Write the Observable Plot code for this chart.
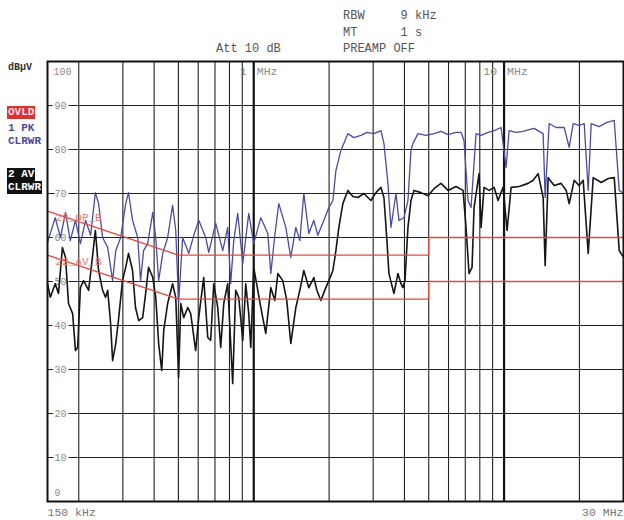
<!DOCTYPE html>
<html><head><meta charset="utf-8">
<script src="https://cdn.jsdelivr.net/npm/d3@7"></script>
<script src="https://cdn.jsdelivr.net/npm/@observablehq/plot@0.6"></script>
<style>
body{margin:0;background:#fff}
#wrap{position:relative;width:624px;height:520px;font-family:"Liberation Mono","DejaVu Sans Mono",monospace}
.t{position:absolute;white-space:pre;line-height:1}
.hd{font-size:12px;color:#555}
.lg{font-size:11px;font-weight:bold}
</style></head><body><div id="wrap"></div>
<script>
// Peak trace (kHz, dBµV)
const pkFreq = [150,161,169,177,185,194,203,213,223,233,240,249,261,273,281,294,308,316,328,344,353,363,377,395,406,417,433,453,474,488,501,520,550,576,603,643,661,705,752,787,809,832,863,904,955,1000,1067,1138,1170,1214,1259,1343,1406,1473,1528,1585,1660,1738,1803,1906,1996,2071,2129,2229,2377,2512,2680,2832,3021,3222,3312,3436,3533,3699,3803,3982,4131,4247,4326,4530,4876,5249,5599,5972,6428,6731,6920,7179,7381,7728,8093,8632,9122,9729,10188,10473,11171,11915,12592,13185,14325,14591,15138,16147,17382,18201,18884,19957,20898,21681,22289,23994,25591,27548,28847,30000];
const pkLevel = [58.9,64.5,60.0,65.7,59.3,63.9,58.6,63.9,60.5,70.2,67.7,60.0,57.7,50.2,57.0,60.0,67.7,70.2,63.9,60.0,50.2,57.0,58.6,65.7,60.0,50.2,56.4,60.0,67.3,61.6,45.0,60.0,56.4,60.5,63.9,60.0,56.6,63.2,57.0,62.3,49.5,59.3,65.5,54.1,65.5,58.6,64.5,60.9,51.8,60.5,67.7,62.3,55.5,62.3,59.3,70.0,60.9,63.9,60.5,63.9,66.8,68.4,75.2,79.8,83.6,82.7,83.2,83.9,83.6,84.3,81.4,72.3,62.3,70.0,63.9,64.5,68.4,79.8,81.4,83.6,83.2,83.6,84.1,83.4,83.9,83.9,82.0,68.4,66.8,83.6,83.2,83.9,84.3,85.0,75.9,84.3,83.9,84.1,84.5,84.8,83.6,69.1,85.9,85.0,85.0,80.5,85.9,85.5,85.9,70.7,85.9,85.2,86.1,86.6,70.7,70.0];
// Average trace (kHz, dBµV)
const avFreq = [150,154,161,166,172,177,182,189,194,198,203,209,219,229,233,240,249,256,261,268,273,281,288,299,308,316,328,337,347,360,370,380,395,406,417,429,437,453,474,488,501,511,525,545,560,586,603,631,655,673,692,718,738,759,787,809,824,847,871,904,929,955,973,1000,1038,1067,1117,1170,1214,1248,1306,1355,1406,1473,1528,1585,1660,1738,1787,1854,1941,1996,2071,2129,2188,2270,2377,2489,2607,2755,2938,3077,3222,3312,3405,3468,3631,3768,3873,3945,4019,4131,4247,4366,4657,4967,5249,5599,5972,6428,6856,7048,7246,7449,7587,7945,8093,8319,8711,9122,9464,9910,10282,10668,11484,12476,13064,13680,14325,14591,15000,15852,16908,17705,18201,19059,19957,20706,21681,22704,24440,26067,27548,28847,30000];
const avLevel = [49.5,46.4,49.5,47.3,57.7,55.5,45.0,42.7,34.3,35.0,48.6,50.2,48.0,57.7,61.6,52.5,48.0,46.4,48.0,40.5,32.0,35.9,41.1,50.2,53.2,56.4,52.5,44.1,41.1,41.8,47.3,53.2,50.9,46.4,35.9,29.8,38.9,45.0,49.5,46.4,28.2,45.0,41.8,44.1,42.7,34.3,41.8,50.9,37.3,36.6,49.5,44.1,35.0,45.0,49.5,35.9,26.8,48.0,46.4,36.6,49.5,42.7,35.0,53.2,48.0,44.1,38.2,48.6,45.7,51.8,50.2,45.7,35.9,44.1,48.0,52.5,48.6,50.9,48.0,45.7,48.6,50.2,52.5,57.0,62.3,67.7,70.7,69.3,69.1,70.0,68.4,70.2,71.4,69.1,59.3,51.8,47.3,51.8,49.5,48.6,50.2,62.3,68.4,70.7,70.2,69.5,71.1,72.3,70.7,71.6,70.7,62.3,51.8,53.2,66.8,74.5,62.3,71.4,70.7,71.4,68.4,71.4,61.6,71.4,71.6,72.3,73.0,74.5,69.1,53.6,73.6,71.8,72.3,70.7,67.7,73.0,71.8,73.0,56.4,73.6,72.5,73.4,73.6,57.0,55.5];
// Limit lines (EN 55022 class B)
const limFreq = [150,500,5000,5000,30000];
const qpLimit = [66,56,56,60,60];
const avLimit = [56,46,46,50,50];
// Grid / tick values
const yTicks = [10,20,30,40,50,60,70,80,90];
const minorFreqs = [200,300,400,500,600,700,800,900,2000,3000,4000,5000,6000,7000,8000,9000,20000];
const majorFreqs = [1000,10000];
const majorLabels = ["1","10"];

const pk = pkFreq.map((f,i)=>({f, v: pkLevel[i]}));
const av = avFreq.map((f,i)=>({f, v: avLevel[i]}));
const qp = limFreq.map((f,i)=>({f, v: qpLimit[i]}));
const al = limFreq.map((f,i)=>({f, v: avLimit[i]}));

const mono = "Liberation Mono, DejaVu Sans Mono, monospace";
const gray = "#8a8a8a";

const chart = Plot.plot({
  width: 624, height: 520,
  marginLeft: 47, marginRight: 1, marginTop: 61, marginBottom: 19,
  style: {background: "white", fontFamily: mono, overflow: "visible"},
  x: {type: "log", domain: [150, 30000], axis: null},
  y: {domain: [0, 100], axis: null},
  marks: [
    Plot.ruleY(yTicks, {stroke: "#222", strokeWidth: 1.1}),
    Plot.ruleX(minorFreqs, {stroke: "#222", strokeWidth: 1.1}),
    Plot.ruleX(majorFreqs, {stroke: "#111", strokeWidth: 2.2}),
    Plot.text(yTicks, {x: () => 150, y: d => d, text: d => String(d), dx: 13, fill: gray, stroke: "white", strokeWidth: 5, paintOrder: "stroke", fontSize: 10}),
    Plot.text(["100"], {x: () => 150, y: () => 100, text: d => d, dx: 6, dy: 10, textAnchor: "start", fill: gray, fontSize: 10}),
    Plot.text(["0"], {x: () => 150, y: () => 0, text: d => d, dx: 7, dy: -9, textAnchor: "start", fill: gray, fontSize: 10}),
    Plot.text(majorFreqs, {x: d => d, y: () => 100, text: (d, i) => majorLabels[i], dx: -7, dy: 10, textAnchor: "end", fill: gray, fontSize: 11.5}),
    Plot.text(majorFreqs, {x: d => d, y: () => 100, text: () => "MHz", dx: 3, dy: 10, textAnchor: "start", fill: gray, fontSize: 11.5}),
    Plot.text(["150 kHz"], {x: () => 150, y: () => 0, text: d => d, dy: 11, textAnchor: "start", fill: "#777", fontSize: 11.5}),
    Plot.text(["30 MHz"], {x: () => 30000, y: () => 0, text: d => d, dy: 11, textAnchor: "end", fill: "#777", fontSize: 11.5}),
    Plot.line(pk, {x: "f", y: "v", stroke: "#4b4ba3", strokeWidth: 1.3}),
    Plot.line(av, {x: "f", y: "v", stroke: "#151515", strokeWidth: 1.6}),
    Plot.line(qp, {x: "f", y: "v", stroke: "#e5473d", strokeWidth: 1.3}),
    Plot.line(al, {x: "f", y: "v", stroke: "#e5473d", strokeWidth: 1.3}),
    Plot.text(["22_QP_B"], {x: () => 150, y: () => 64.5, text: d => d, dx: 8, textAnchor: "start", fill: "#e77b72", fontSize: 11}),
    Plot.text(["22_AV_B"], {x: () => 150, y: () => 54.5, text: d => d, dx: 8, textAnchor: "start", fill: "#e77b72", fontSize: 11}),
    Plot.frame({stroke: "#111", strokeWidth: 2})
  ]
});

const wrap = document.getElementById("wrap");
wrap.appendChild(chart);
const items = [
  {t: "RBW     9 kHz", x: 343, y: 10, c: "hd"},
  {t: "MT      1 s", x: 343, y: 27, c: "hd"},
  {t: "PREAMP OFF", x: 343, y: 43, c: "hd"},
  {t: "Att 10 dB", x: 216, y: 43, c: "hd"},
  {t: "dB\u00b5V", x: 8, y: 63, c: "lg", style: "color:#333;font-size:10px"},
  {t: "OVLD", x: 7, y: 106, c: "lg", style: "color:#fde;background:#d9352f;padding:1px 1px"},
  {t: "1 PK", x: 8, y: 123, c: "lg", style: "color:#4b4ba3"},
  {t: "CLRWR", x: 8, y: 136, c: "lg", style: "color:#4b4ba3"},
  {t: "2 AV", x: 7, y: 168, c: "lg", style: "color:#fff;background:#111;padding:1px 1px"},
  {t: "CLRWR", x: 7, y: 181, c: "lg", style: "color:#fff;background:#111;padding:1px 1px"}
];
for (const it of items) {
  const d = document.createElement("div");
  d.className = "t " + it.c;
  d.textContent = it.t;
  d.style.left = it.x + "px";
  d.style.top = it.y + "px";
  if (it.style) d.style.cssText += ";" + it.style;
  wrap.appendChild(d);
}
</script>
</body></html>
